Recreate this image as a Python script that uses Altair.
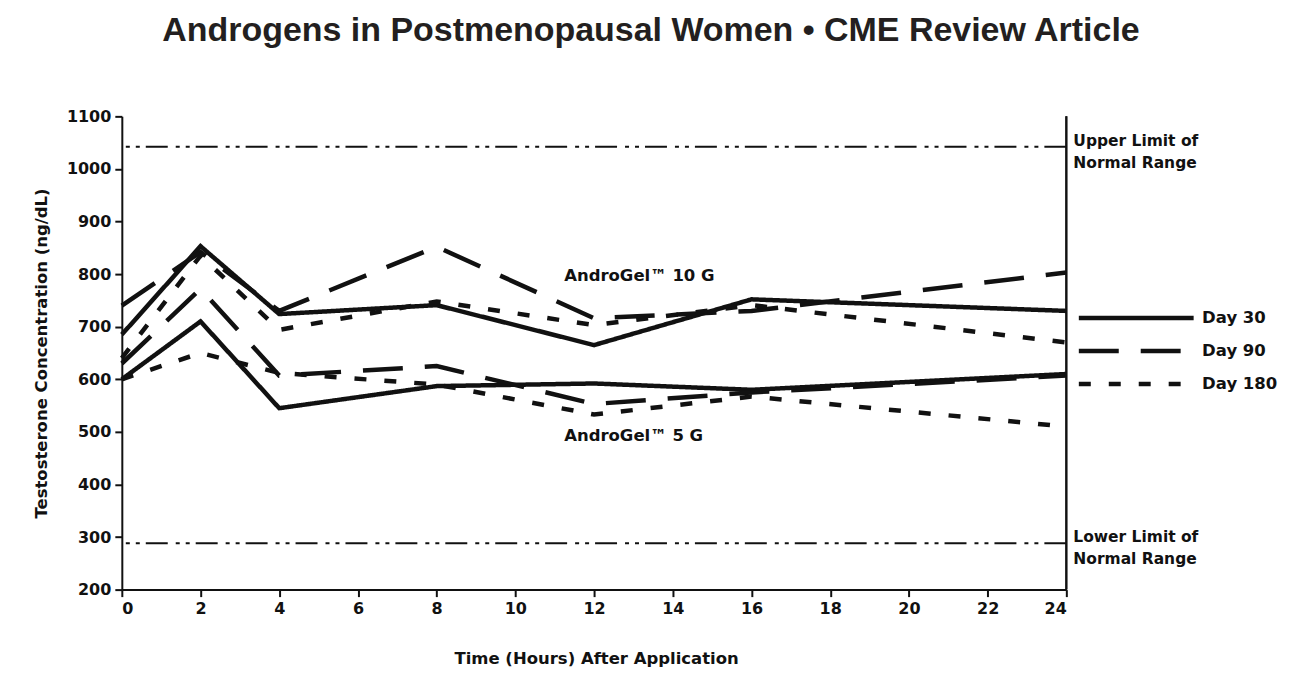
import altair as alt
import pandas as pd

hours = [0, 2, 4, 8, 12, 16, 24]
days = ["Day 30", "Day 90", "Day 180"]

g10_day30 = [685, 853, 724, 741, 665, 752, 730]
g10_day90 = [740, 842, 730, 852, 716, 730, 803]
g10_day180 = [640, 835, 694, 748, 703, 741, 670]
g5_day30 = [600, 710, 545, 587, 592, 580, 610]
g5_day90 = [630, 772, 607, 625, 553, 575, 607]
g5_day180 = [600, 650, 612, 590, 533, 567, 510]

ref_values = [1042, 288]
ref_labels = ["Upper Limit of\nNormal Range", "Lower Limit of\nNormal Range"]

dose_labels = ["AndroGel\u2122 10 G", "AndroGel\u2122 5 G"]
dose_label_x = [11.24, 11.24]
dose_label_y = [796, 493]

series = [
    ("10 G", "Day 30", g10_day30), ("10 G", "Day 90", g10_day90), ("10 G", "Day 180", g10_day180),
    ("5 G", "Day 30", g5_day30), ("5 G", "Day 90", g5_day90), ("5 G", "Day 180", g5_day180),
]
rows = []
for dose, day, vals in series:
    for h, v in zip(hours, vals):
        rows.append({"hour": h, "value": v, "day": day, "dose": dose})
df = pd.DataFrame(rows)
ref_df = pd.DataFrame({"value": ref_values, "label": ref_labels})
lab_df = pd.DataFrame({"x": dose_label_x, "y": dose_label_y, "text": dose_labels})

INK = "#111111"
FONT = "DejaVu Sans"
W, H = 946, 474

xscale = alt.Scale(domain=[0, 24], nice=False, zero=False)
yscale = alt.Scale(domain=[200, 1100], nice=False, zero=False)

lines = alt.Chart(df).mark_line(color=INK, strokeWidth=4.5, strokeCap="butt").encode(
    x=alt.X("hour:Q", scale=xscale,
            axis=alt.Axis(values=list(range(0, 25, 2)), format="d", title="Time (Hours) After Application",
                          titleX=475, titleY=69, titleBaseline="middle", titleAlign="center")),
    y=alt.Y("value:Q", scale=yscale,
            axis=alt.Axis(values=list(range(200, 1101, 100)), format="d",
                          title="Testosterone Concentration (ng/dL)",
                          titleX=-80, titleY=237, titleAngle=-90, titleBaseline="middle", titleAlign="center")),
    strokeDash=alt.StrokeDash("day:N", sort=days,
                              scale=alt.Scale(domain=days, range=[[1, 0], [40, 22], [12, 18]]),
                              legend=alt.Legend(title=None, orient="none", legendX=956, legendY=191,
                                                symbolType="stroke", symbolSize=13225, symbolStrokeWidth=4.5,
                                                symbolStrokeColor=INK, clipHeight=22, rowPadding=11,
                                                labelFont=FONT, labelFontSize=16.5, labelLimit=200,
                                                labelFontWeight="bold", labelColor=INK, labelOffset=6,
                                                padding=0)),
    detail="dose:N",
)

refs = alt.Chart(ref_df).mark_rule(color=INK, strokeWidth=2, strokeDash=[22, 6, 4, 6, 4, 8]).encode(
    y=alt.Y("value:Q", scale=yscale)
)

ref_text = alt.Chart(ref_df).mark_text(align="left", baseline="middle", lineBreak="\n", lineHeight=22,
                                       font=FONT, fontSize=15.5, fontWeight="bold",
                                       color=INK, dy=-6).encode(
    x=alt.value(953),
    y=alt.Y("value:Q", scale=yscale),
    text="label:N",
)

dose_text = alt.Chart(lab_df).mark_text(align="left", baseline="middle", font=FONT,
                                        fontSize=16.5, fontWeight="bold", color=INK).encode(
    x=alt.X("x:Q", scale=xscale),
    y=alt.Y("y:Q", scale=yscale),
    text="text:N",
)

frame = alt.Chart(ref_df).mark_rule(color=INK, strokeWidth=2).encode(
    x=alt.value(W), y=alt.value(0), y2=alt.value(H)
)

chart = alt.layer(refs, lines, frame, ref_text, dose_text).properties(
    width=W, height=H,
    autosize=alt.AutoSizeParams(type="none"),
    padding={"left": 114, "top": 108, "right": 215, "bottom": 85},
    title=alt.TitleParams(text="Androgens in Postmenopausal Women \u2022 CME Review Article",
                          font="Liberation Sans", fontSize=34, fontWeight="bold", color="#231f20",
                          anchor="middle", dx=57, offset=60),
).configure_view(stroke=None).configure_axis(
    grid=False, domainColor=INK, domainWidth=2, tickColor=INK, tickWidth=2, tickSize=7,
    labelFont=FONT, labelFontWeight="bold", labelFontSize=16, labelColor=INK,
    labelPadding=4, titleFont=FONT, titleFontWeight="bold", titleFontSize=16.5,
    titleColor=INK,
)

chart.save("out.html", embed_options={"renderer": "svg", "actions": False})
